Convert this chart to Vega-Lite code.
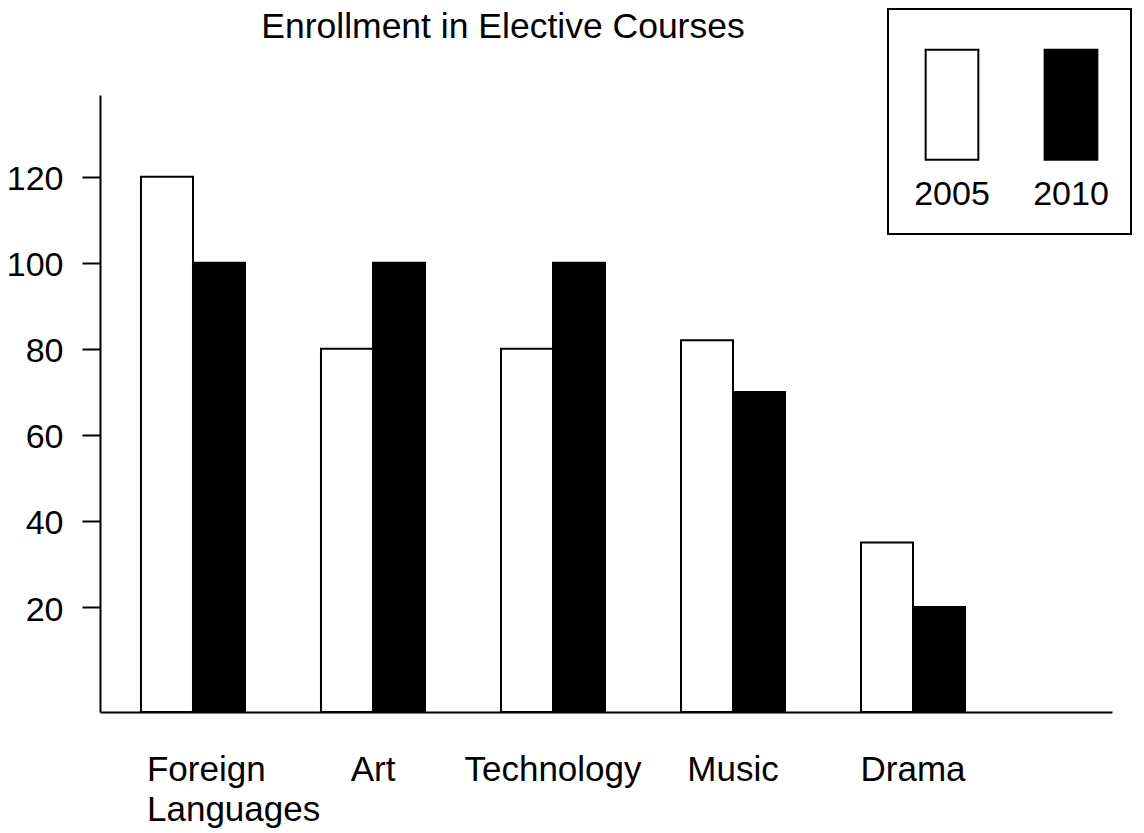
{
  "$schema": "https://vega.github.io/schema/vega-lite/v6.json",
  "autosize": {"type": "none"},
  "padding": {"left": 100, "top": 95, "right": 32, "bottom": 121},
  "width": 1012,
  "height": 617,
  "background": "white",
  "title": {
    "text": "Enrollment in Elective Courses",
    "font": "Liberation Sans",
    "fontSize": 35.5,
    "fontWeight": "normal",
    "color": "black",
    "anchor": "middle",
    "dx": -103,
    "baseline": "alphabetic",
    "offset": -65
  },
  "data": {
    "values": [
      {"course": "Foreign Languages", "year": "2005", "enrollment": 120},
      {"course": "Foreign Languages", "year": "2010", "enrollment": 100},
      {"course": "Art", "year": "2005", "enrollment": 80},
      {"course": "Art", "year": "2010", "enrollment": 100},
      {"course": "Technology", "year": "2005", "enrollment": 80},
      {"course": "Technology", "year": "2010", "enrollment": 100},
      {"course": "Music", "year": "2005", "enrollment": 82},
      {"course": "Music", "year": "2010", "enrollment": 70},
      {"course": "Drama", "year": "2005", "enrollment": 35},
      {"course": "Drama", "year": "2010", "enrollment": 20}
    ]
  },
  "mark": {"type": "bar", "stroke": "black", "strokeWidth": 2},
  "encoding": {
    "x": {
      "field": "course",
      "type": "nominal",
      "sort": ["Foreign Languages", "Art", "Technology", "Music", "Drama"],
      "scale": {"paddingInner": 0.422, "paddingOuter": 0.522, "align": 0.218},
      "axis": {
        "title": null,
        "ticks": false,
        "tickSize": 0,
        "labelAngle": 0,
        "labelFont": "Liberation Sans",
        "labelFontSize": 35,
        "labelColor": "black",
        "labelBaseline": "alphabetic",
        "labelPadding": 68,
        "labelLineHeight": 40,
        "labelLimit": 400,
        "labelOverlap": false,
        "labelExpr": "datum.value === 'Foreign Languages' ? ['Foreign', 'Languages'] : datum.value",
        "labelAlign": {"condition": {"test": "datum.value === 'Foreign Languages'", "value": "left"}, "value": "center"},
        "labelOffset": {"condition": {"test": "datum.value === 'Foreign Languages'", "value": -46}, "value": 0},
        "domainColor": "black",
        "domainWidth": 2
      }
    },
    "xOffset": {"field": "year", "type": "nominal", "scale": {"paddingInner": 0, "paddingOuter": 0}},
    "y": {
      "field": "enrollment",
      "type": "quantitative",
      "stack": null,
      "scale": {"domain": [-4.4, 139], "nice": false, "zero": false},
      "axis": {
        "title": null,
        "values": [20, 40, 60, 80, 100, 120],
        "grid": false,
        "tickSize": 18,
        "tickWidth": 2,
        "tickColor": "black",
        "labelFont": "Liberation Sans",
        "labelFontSize": 34,
        "labelColor": "black",
        "labelPadding": 19,
        "labelOffset": 3,
        "domainColor": "black",
        "domainWidth": 2
      }
    },
    "y2": {"value": "height"},
    "fill": {
      "field": "year",
      "type": "nominal",
      "scale": {"domain": ["2005", "2010"], "range": ["white", "black"]},
      "legend": {
        "orient": "none",
        "legendX": 788,
        "legendY": -86,
        "direction": "horizontal",
        "title": null,
        "symbolType": "M-0.479,-0.678H0.479V1.322H-0.479Z",
        "symbolSize": 12100,
        "symbolOffset": -14,
        "symbolStrokeColor": "black",
        "symbolStrokeWidth": 2,
        "labelFont": "Liberation Sans",
        "labelFontSize": 34,
        "labelColor": "black",
        "labelAlign": "center",
        "labelBaseline": "alphabetic",
        "labelOffset": -56,
        "columnPadding": 39,
        "padding": 22,
        "strokeColor": "black",
        "encode": {
          "labels": {"update": {"dy": {"value": 118}}},
          "legend": {"update": {"strokeWidth": {"value": 2}}}
        }
      }
    }
  },
  "config": {"view": {"stroke": null}}
}
